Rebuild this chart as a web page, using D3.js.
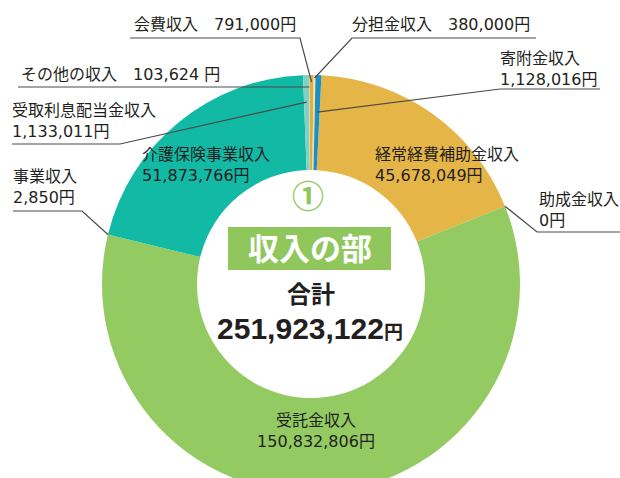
<!DOCTYPE html>
<html lang="ja">
<head>
<meta charset="utf-8">
<script src="https://cdn.jsdelivr.net/npm/d3@7"></script>
<style>
  html,body{margin:0;padding:0;background:#fff;}
  svg{display:block;font-family:"Noto Sans CJK JP","Noto Sans",sans-serif;}
  .lbl{font-size:16px;fill:#231f20;font-family:"DejaVu Sans","Noto Sans CJK JP",sans-serif;}
  .lead{fill:none;stroke:#4a4a4a;stroke-width:1.2;}
</style>
</head>
<body>
<div id="chart"></div>
<script>
// 収入の部 — 各科目（円）、12時の少し右から時計回り
var categories=["経常経費補助金収入","助成金収入","受託金収入","事業収入","介護保険事業収入",
  "受取利息配当金収入","その他の収入","会費収入","分担金収入","寄附金収入"];
var values=[45678049,0,150832806,2850,51873766,1133011,103624,791000,380000,1128016];
var colors=["#e6b547","#e6b547","#94ca62","#94ca62","#12b9a5","#80d0c4","#cfe8e2","#e2ad3e","#f1e39a","#1a8fc8"];
var totalValue=251923122;

var W=620,H=478, cx=311, cy=284, R=209, r0=114, start=0.05;
var svg=d3.select("#chart").append("svg").attr("width",W).attr("height",H);
var g=svg.append("g").attr("transform","translate("+cx+","+cy+")");

var pie=d3.pie().sort(null).value(function(d){return d;}).startAngle(start).endAngle(start+2*Math.PI);
var arcs=pie(values);
var arc=d3.arc().innerRadius(r0).outerRadius(R);

g.selectAll("path.slice").data(arcs).enter().append("path")
  .attr("class","slice").attr("d",arc)
  .attr("fill",function(d,i){return colors[i];});

var fmt=d3.format(",");
function pt(i,rad){var a=(arcs[i].startAngle+arcs[i].endAngle)/2;return [cx+rad*Math.sin(a),cy-rad*Math.cos(a)];}

// label layout: text lines, positions, leader path (last point goes to the slice)
var layout={
  "会費収入":{lines:["会費収入　"+fmt(values[7])+"円"],x:134,y:[30],lead:[[130,38],[300,38]],r:202},
  "分担金収入":{lines:["分担金収入　"+fmt(values[8])+"円"],x:352,y:[30],lead:[[536,38],[352,38]],r:206},
  "寄附金収入":{lines:["寄附金収入",fmt(values[9])+"円"],x:500,y:[64,85],lead:[[600,89],[500,89]],r:172},
  "その他の収入":{lines:["その他の収入　"+fmt(values[6])+" 円"],x:21,y:[80],lead:[[18,87]],r:198,flat:true},
  "受取利息配当金収入":{lines:["受取利息配当金収入",fmt(values[5])+"円"],x:12,y:[116,137],lead:[[12,144],[120,144]],r:182},
  "事業収入":{lines:["事業収入",fmt(values[3])+"円"],x:13,y:[182,203],lead:[[13,211],[82,211]],r:R},
  "助成金収入":{lines:["助成金収入",fmt(values[1])+"円"],x:539,y:[205,226],lead:[[620,232],[537,232]],r:R},
  "介護保険事業収入":{lines:["介護保険事業収入",fmt(values[4])+"円"],x:142,y:[160,181]},
  "経常経費補助金収入":{lines:["経常経費補助金収入",fmt(values[0])+"円"],x:375,y:[160,181]},
  "受託金収入":{lines:["受託金収入",fmt(values[2])+"円"],x:316,y:[426,447],anchor:"middle"}
};

categories.forEach(function(c,i){
  var L=layout[c];
  L.lines.forEach(function(t,k){
    svg.append("text").attr("class","lbl").attr("x",L.x).attr("y",L.y[k])
      .attr("text-anchor",L.anchor||"start").text(t);
  });
  if(L.lead){
    var p=pt(i,L.r), pts=L.lead.slice();
    if(L.flat) p=[p[0],pts[0][1]];
    pts.push(p);
    svg.append("path").attr("class","lead").attr("d",d3.line()(pts));
  }
});

// center
svg.append("text").attr("x",308).attr("y",208).attr("text-anchor","middle")
  .style("font-size","32px").style("font-weight","bold").style("fill","#8fc75d").text("①");
svg.append("rect").attr("x",228).attr("y",227).attr("width",163).attr("height",43).attr("fill","#8fc75d");
svg.append("text").attr("x",310).attr("y",260).attr("text-anchor","middle")
  .style("font-size","31px").style("font-weight","bold").style("fill","#fff").text("収入の部");
svg.append("text").attr("x",311).attr("y",303).attr("text-anchor","middle")
  .style("font-size","24px").style("font-weight","bold").style("fill","#231f20").text("合計");
var tot=svg.append("text").attr("x",310).attr("y",339).attr("text-anchor","middle")
  .style("font-weight","bold").style("fill","#231f20");
tot.append("tspan").style("font-size","30px").style("font-family","'Liberation Sans',Arial,sans-serif").text(fmt(totalValue));
tot.append("tspan").style("font-size","19px").text("円");
</script>
</body>
</html>
